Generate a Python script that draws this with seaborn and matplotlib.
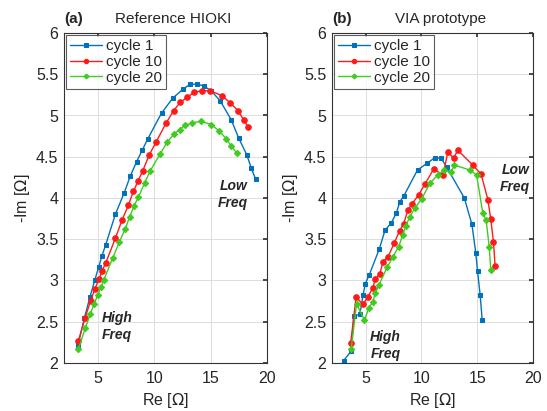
import numpy as np
import pandas as pd
import matplotlib
matplotlib.use("Agg")
import matplotlib.pyplot as plt
import seaborn as sns

# ---- Panel (a): Reference HIOKI ----
a_c1_x = [3.25, 3.8, 4.3, 4.72, 5.07, 5.37, 5.69, 6.55, 7.33, 7.89, 8.44, 8.94, 9.44, 10.65, 11.64, 12.56, 13.19, 13.76, 14.38, 15.04, 15.84, 16.82, 17.48, 18.22, 18.61, 18.99]
a_c1_y = [2.22, 2.54, 2.80, 3.00, 3.16, 3.30, 3.43, 3.80, 4.06, 4.27, 4.44, 4.58, 4.72, 5.03, 5.21, 5.32, 5.38, 5.38, 5.36, 5.30, 5.18, 4.95, 4.73, 4.52, 4.36, 4.23]
a_c10_x = [3.28, 3.88, 4.35, 4.74, 5.12, 5.38, 5.69, 6.55, 7.14, 7.70, 8.15, 8.58, 8.98, 9.55, 10.17, 11.06, 11.73, 12.3, 12.93, 13.5, 14.2, 14.95, 16.02, 16.76, 17.42, 17.92, 18.31]
a_c10_y = [2.27, 2.55, 2.75, 2.90, 3.02, 3.12, 3.21, 3.51, 3.73, 3.91, 4.08, 4.21, 4.33, 4.52, 4.68, 4.91, 5.06, 5.16, 5.22, 5.28, 5.30, 5.30, 5.24, 5.15, 5.06, 4.95, 4.86]
a_c20_x = [3.28, 3.88, 4.32, 4.68, 4.98, 5.27, 5.51, 6.31, 6.92, 7.44, 7.82, 8.19, 8.6, 9.14, 9.65, 10.5, 11.17, 11.79, 12.27, 12.71, 13.35, 14.14, 15.07, 15.78, 16.38, 16.82, 17.35]
a_c20_y = [2.17, 2.42, 2.59, 2.72, 2.82, 2.92, 3.00, 3.27, 3.47, 3.63, 3.77, 3.90, 4.01, 4.18, 4.33, 4.53, 4.68, 4.78, 4.83, 4.88, 4.91, 4.93, 4.89, 4.81, 4.72, 4.63, 4.54]

# ---- Panel (b): VIA prototype ----
b_c1_x = [3.04, 3.7, 3.96, 4.49, 4.78, 4.98, 5.34, 6.23, 6.75, 7.32, 7.77, 8.06, 8.45, 9.66, 10.51, 11.22, 11.78, 12.29, 13.85, 14.53, 14.88, 15.03, 15.27, 15.45]
b_c1_y = [2.03, 2.14, 2.57, 2.59, 2.82, 2.96, 3.07, 3.38, 3.61, 3.70, 3.82, 3.95, 4.03, 4.34, 4.42, 4.49, 4.48, 4.37, 4.00, 3.68, 3.33, 3.12, 2.82, 2.52]
b_c10_x = [3.67, 4.16, 4.76, 5.21, 5.65, 5.89, 6.28, 6.58, 7.03, 7.59, 8.05, 8.42, 8.79, 9.17, 9.77, 10.33, 11.1, 11.94, 12.38, 12.89, 13.26, 14.6, 15.35, 15.96, 16.22, 16.46, 16.61]
b_c10_y = [2.24, 2.80, 2.71, 2.80, 2.91, 3.02, 3.08, 3.23, 3.29, 3.46, 3.60, 3.69, 3.85, 3.93, 4.04, 4.17, 4.35, 4.28, 4.56, 4.48, 4.58, 4.40, 4.29, 3.98, 3.74, 3.47, 3.17]
b_c20_x = [3.72, 4.2, 4.91, 5.30, 5.65, 5.89, 6.19, 6.94, 7.47, 7.97, 8.33, 8.6, 8.96, 9.43, 10.03, 10.78, 11.48, 12.03, 12.65, 12.95, 14.32, 14.95, 15.5, 15.8, 16.08, 16.22]
b_c20_y = [2.17, 2.72, 2.52, 2.67, 2.74, 2.85, 2.94, 3.16, 3.29, 3.41, 3.55, 3.66, 3.77, 3.88, 3.99, 4.18, 4.28, 4.34, 4.31, 4.40, 4.34, 4.28, 3.82, 3.73, 3.41, 3.13]

series_names = ["cycle 1", "cycle 10", "cycle 20"]
panel_titles = ["Reference HIOKI", "VIA prototype"]
panel_tags = ["(a)", "(b)"]
x_ticks = [5, 10, 15, 20]
y_ticks = [2, 2.5, 3, 3.5, 4, 4.5, 5, 5.5, 6]

colors = {"cycle 1": "#0072BD", "cycle 10": "#FF1A1A", "cycle 20": "#3FCC1F"}
markers = {"cycle 1": "s", "cycle 10": "o", "cycle 20": "D"}
msizes = {"cycle 1": 3.4, "cycle 10": 4.0, "cycle 20": 3.2}


def make_df(xs, ys):
    frames = []
    for name, x, y in zip(series_names, xs, ys):
        frames.append(pd.DataFrame({"Re": x, "Im": y, "series": name, "order": np.arange(len(x))}))
    return pd.concat(frames, ignore_index=True)


df_a = make_df([a_c1_x, a_c10_x, a_c20_x], [a_c1_y, a_c10_y, a_c20_y])
df_b = make_df([b_c1_x, b_c10_x, b_c20_x], [b_c1_y, b_c10_y, b_c20_y])

sns.set_theme(style="white")
plt.rcParams['font.family'] = ['Arial', 'Liberation Sans', 'DejaVu Sans']
plt.rcParams['mathtext.fontset'] = 'dejavusans'

fig = plt.figure(figsize=(5.47, 4.11), dpi=100)
ax_a = fig.add_axes([64 / 547, 48 / 411, 203 / 547, 330 / 411])
ax_b = fig.add_axes([332 / 547, 48 / 411, 201 / 547, 330 / 411])

annots = [
    [("Low\nFreq", 17.0, 4.04), ("High\nFreq", 6.7, 2.44)],
    [("Low\nFreq", 18.4, 4.24), ("High\nFreq", 6.8, 2.21)],
]

for ax, df, title, tag, ann in zip([ax_a, ax_b], [df_a, df_b], panel_titles, panel_tags, annots):
    for name in series_names:
        sub = df[df["series"] == name]
        sns.lineplot(data=sub, x="Re", y="Im", sort=False, estimator=None, ax=ax,
                     color=colors[name], marker=markers[name], markersize=msizes[name],
                     markeredgecolor=colors[name], linewidth=1.0, label=name)
    ax.set_xlim(2, 20)
    ax.set_ylim(2, 6)
    ax.set_xticks(x_ticks)
    ax.set_yticks(y_ticks)
    ax.set_yticklabels([f"{v:g}" for v in y_ticks])
    ax.grid(True, color="#DDDDDD", linewidth=0.7)
    ax.tick_params(direction="in", length=3, top=True, right=True, labelsize=11.5,
                   color="#333333")
    ax.tick_params(axis="x", pad=6)
    ax.tick_params(axis="y", pad=4)
    for s in ax.spines.values():
        s.set_color("#333333")
        s.set_linewidth(0.8)
    ax.set_xlabel(r"Re [$\Omega$]", fontsize=11.5, labelpad=3)
    ax.set_ylabel(r"-Im [$\Omega$]", fontsize=11.5, labelpad=3)
    ax.text(0.0, 1.02, tag, transform=ax.transAxes, fontsize=11, fontweight="bold",
            ha="left", va="bottom")
    ax.text(0.54, 1.02, title, transform=ax.transAxes, fontsize=11,
            ha="center", va="bottom")
    for txt, tx, ty in ann:
        ax.text(tx, ty, txt, fontsize=10, fontweight="bold", fontstyle="italic",
                ha="center", va="center", linespacing=1.25)
    leg = ax.legend(loc="upper left", fontsize=11, frameon=True, fancybox=False,
                    edgecolor="#333333", handlelength=2.1, borderpad=0.25,
                    labelspacing=0.12, handletextpad=0.25, borderaxespad=0.15,
                    markerscale=0.8)
    leg.get_frame().set_linewidth(0.8)
    ax.set_facecolor("white")

fig.savefig("out.png", dpi=100, facecolor="white")
